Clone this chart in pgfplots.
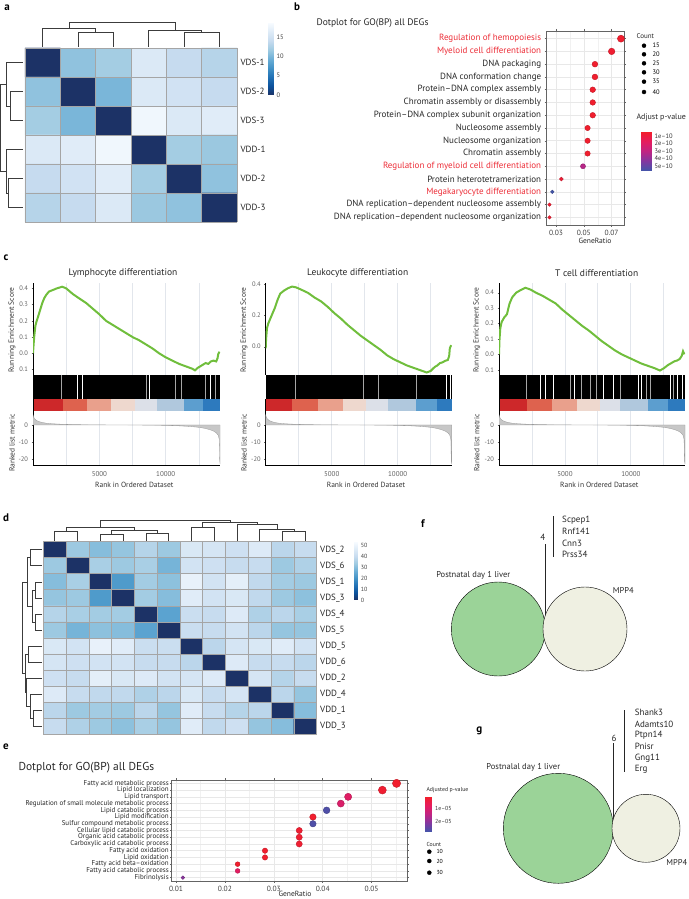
\documentclass[border=0pt]{standalone}
\usepackage{pgfplots}
\usepackage{pgfplotstable}
\pgfplotsset{compat=1.18}
\usepackage{fontspec}
\setmainfont{PT Sans}
\newcommand{\fs}[1]{\fontsize{#1}{#1}\selectfont}
\definecolor{hred}{RGB}{236,45,55}
\definecolor{vgreen}{RGB}{155,211,152}
\definecolor{vbeige}{RGB}{239,240,226}
\definecolor{esgreen}{RGB}{112,190,60}
\definecolor{gridc}{RGB}{226,230,236}
\definecolor{gridl}{RGB}{232,232,232}
\definecolor{dendc}{RGB}{60,60,60}
\definecolor{frame}{RGB}{100,100,100}
\definecolor{tlab}{RGB}{95,95,95}
\definecolor{cellb}{RGB}{165,165,165}
\definecolor{b1}{RGB}{205,40,42}
\definecolor{b2}{RGB}{222,98,78}
\definecolor{b3}{RGB}{233,160,140}
\definecolor{b4}{RGB}{238,216,206}
\definecolor{b5}{RGB}{220,224,232}
\definecolor{b6}{RGB}{176,200,221}
\definecolor{b7}{RGB}{92,158,207}
\definecolor{b8}{RGB}{45,122,190}
\pgfplotsset{
  colormap={heat}{rgb255=(28,50,102) rgb255=(12,82,156) rgb255=(33,113,181) rgb255=(66,146,198) rgb255=(107,174,214) rgb255=(158,202,225) rgb255=(198,219,239) rgb255=(222,235,247) rgb255=(247,251,255)},
  colormap={pv}{rgb255=(242,30,44) rgb255=(228,28,96) rgb255=(190,36,132) rgb255=(128,56,160) rgb255=(64,86,170)},
  every axis/.append style={scale only axis, anchor=south west, enlargelimits=false, scaled x ticks=false, scaled y ticks=false, /pgf/number format/assume math mode=true},
  dendro/.style={no marks, line width=0.6pt, color=dendc},
  esaxis/.style={height=92pt, xmin=0, xmax=14100, axis x line*=bottom, axis y line*=left,
    x axis line style={draw=none}, y axis line style={black, line width=1pt},
    xtick={5000,10000}, minor xtick={2500,7500,12500}, xticklabels={}, xtick style={draw=none},
    xmajorgrids, xminorgrids, major grid style={gridc, line width=0.9pt}, minor grid style={gridc, line width=0.9pt},
    ytick style={tlab, line width=0.4pt}, major tick length=1.5pt, minor tick length=0pt, tick align=outside,
    yticklabel style={font=\fs{6.5}, text=tlab}},
  rlaxis/.style={height=55.3pt, xmin=0, xmax=14100, ymin=-24.1, ymax=8.4, axis x line*=bottom, axis y line*=left,
    axis line style={black, line width=1pt},
    xtick={5000,10000}, xticklabels={5000,10000}, minor xtick={2500,7500,12500}, xtick style={draw=none},
    xmajorgrids, xminorgrids, major grid style={gridc, line width=0.9pt}, minor grid style={gridc, line width=0.9pt},
    ytick={-20,-10,0}, yticklabels={-20,-10,0}, ytick style={tlab, line width=0.4pt}, major tick length=1.5pt, minor tick length=0pt, tick align=outside,
    yticklabel style={font=\fs{6.5}, text=tlab}, xticklabel style={font=\fs{7}, text=tlab}},
  bcaxis/.style={height=24pt, xmin=0, xmax=14100, ymin=0, ymax=1, hide axis},
  bdaxis/.style={height=11.7pt, xmin=0, xmax=14100, ymin=0, ymax=1, hide axis, clip=false},
  hmaxis/.style={y dir=reverse, clip=false, colormap name=heat, axis on top,
    axis line style={draw=none}, xticklabels={}, tick style={draw=none},
    xmajorgrids, major grid style={cellb, line width=0.8pt},
    yticklabel pos=right, yticklabel style={font=\fs{9}, text=black!85},
    extra y tick labels={}, extra y tick style={grid=major, tick style={draw=none}}},
}
\newcommand{\seg}[3]{\addplot[fill=#1, draw=none] coordinates {(#2,0) (#2,1) (#3,1) (#3,0)} --cycle;}

\pgfplotstableread{
x y
0 0
0 6.0
40 4.8
120 3.6
250 2.7
450 2.0
700 1.45
1000 1.05
1400 0.75
2000 0.5
2800 0.3
4000 0.15
5500 0.05
7000 0.0
8500 -0.08
10000 -0.25
11000 -0.5
11800 -0.85
12400 -1.3
12900 -1.9
13300 -2.7
13600 -3.6
13800 -4.6
13950 -6.0
14030 -8.5
14060 -21
14100 -23
14100 0
}\rankedtbl

\begin{document}
\begin{tikzpicture}
\useasboundingbox (0,0) rectangle (688pt,899pt);

% ---------------- panel a heatmap
\begin{axis}[hmaxis, at={(25pt,677pt)}, width=212pt, height=174pt,
  xmin=-0.5, xmax=5.5, ymin=-0.5, ymax=5.5,
  point meta min=0, point meta max=18.6,
  xtick={-0.5,0.5,...,5.5}, ytick={0,...,5}, extra y ticks={-0.5,0.5,...,5.5},
  yticklabels={VDS-1,VDS-2,VDS-3,VDD-1,VDD-2,VDD-3}]
\addplot[matrix plot*, mesh/cols=6, point meta=explicit] table[meta=v, row sep=\\] {
x y v\\
0 0 0\\ 1 0 11\\ 2 0 12\\ 3 0 16\\ 4 0 14\\ 5 0 13\\
0 1 11\\ 1 1 0\\ 2 1 10\\ 3 1 16\\ 4 1 15\\ 5 1 14\\
0 2 12\\ 1 2 10\\ 2 2 0\\ 3 2 18\\ 4 2 16\\ 5 2 16.5\\
0 3 16\\ 1 3 16.5\\ 2 3 18\\ 3 3 0\\ 4 3 12\\ 5 3 11.5\\
0 4 14\\ 1 4 15\\ 2 4 16.5\\ 3 4 12\\ 4 4 0\\ 5 4 11\\
0 5 13\\ 1 5 14\\ 2 5 16\\ 3 5 11.5\\ 4 5 11\\ 5 5 0\\
};
\addplot[dendro] coordinates {(1,-0.55) (1,-1.04) (2,-1.04) (2,-0.55)};
\addplot[dendro] coordinates {(0,-0.55) (0,-1.18) (1.5,-1.18) (1.5,-1.04)};
\addplot[dendro] coordinates {(4,-0.55) (4,-1.04) (5,-1.04) (5,-0.55)};
\addplot[dendro] coordinates {(3,-0.55) (3,-1.12) (4.5,-1.12) (4.5,-1.04)};
\addplot[dendro] coordinates {(0.75,-1.18) (0.75,-1.37) (3.75,-1.37) (3.75,-1.12)};
\addplot[dendro] coordinates {(-0.55,1) (-0.92,1) (-0.92,2) (-0.55,2)};
\addplot[dendro] coordinates {(-0.55,0) (-1.02,0) (-1.02,1.5) (-0.92,1.5)};
\addplot[dendro] coordinates {(-0.55,4) (-0.97,4) (-0.97,5) (-0.55,5)};
\addplot[dendro] coordinates {(-0.55,3) (-1.02,3) (-1.02,4.5) (-0.97,4.5)};
\addplot[dendro] coordinates {(-1.02,0.75) (-1.19,0.75) (-1.19,3.75) (-1.02,3.75)};
\end{axis}
% colorbar a
\begin{axis}[at={(268pt,804pt)}, width=5pt, height=72pt, xmin=0, xmax=1, ymin=0, ymax=18.6,
  colormap name=heat, point meta min=0, point meta max=18.6,
  axis line style={draw=none}, xtick=\empty, ytick={0,5,10,15}, yticklabel pos=right,
  ytick style={draw=none}, yticklabel style={font=\fs{6.5}, text=black!75}]
\addplot[surf, shader=interp, point meta=y, mesh/cols=2] coordinates {(0,0) (1,0) (0,18.6) (1,18.6)};
\end{axis}

% ---------------- panel b dotplot
\begin{axis}[at={(546.7pt,674pt)}, width=77.3pt, height=194pt,
  xmin=0.0233, xmax=0.0789, ymin=0.4, ymax=15.6, y dir=reverse,
  xtick={0.03,0.05,0.07}, xticklabels={0.03,0.05,0.07}, minor xtick={0.04,0.06},
  ytick={1,...,15},
  yticklabels={\textcolor{hred}{Regulation of hemopoiesis},\textcolor{hred}{Myeloid cell differentiation},DNA packaging,DNA conformation change,Protein--DNA complex assembly,Chromatin assembly or disassembly,Protein--DNA complex subunit organization,Nucleosome assembly,Nucleosome organization,Chromatin assembly,\textcolor{hred}{Regulation of myeloid cell differentiation},Protein heterotetramerization,\textcolor{hred}{Megakaryocyte differentiation},DNA replication--dependent nucleosome assembly,DNA replication--dependent nucleosome organization},
  xmajorgrids, xminorgrids, ymajorgrids, major grid style={gridl, line width=0.6pt}, minor grid style={gridl!60, line width=0.4pt},
  axis line style={frame, line width=0.7pt}, tick align=outside, major tick length=2pt, minor tick length=0pt,
  tick style={frame, line width=0.5pt},
  xticklabel style={font=\fs{7.5}, text=black!75},
  yticklabel style={font=\fs{9}, text=black!85},
  colormap name=pv, point meta min=0.45, point meta max=5.65]
\addplot[scatter, only marks, mark=*, point meta=\thisrow{p},
  visualization depends on={0.065*\thisrow{n}+0.8 \as \msz},
  scatter/@pre marker code/.append style={/tikz/mark size=\msz}] table[x=r, y=k] {
k r n p
1 0.0767 42 0.5
2 0.0700 38 0.6
3 0.0580 32 0.5
4 0.0580 32 0.5
5 0.0564 31 0.5
6 0.0564 31 0.5
7 0.0564 31 0.5
8 0.0527 29 0.5
9 0.0527 29 0.5
10 0.0527 29 0.5
11 0.0494 27 3.2
12 0.0338 18 0.7
13 0.0273 15 5.6
14 0.0253 14 0.6
15 0.0253 14 0.6
};
\end{axis}
% colorbar b
\begin{axis}[at={(641pt,728pt)}, width=10pt, height=39pt, xmin=0, xmax=1, ymin=0.45, ymax=5.65, y dir=reverse,
  colormap name=pv, point meta min=0.45, point meta max=5.65,
  axis line style={draw=none}, xtick=\empty, ytick={1,2,3,4,5}, yticklabels={1e--10,2e--10,3e--10,4e--10,5e--10},
  yticklabel pos=right, tick align=inside, major tick length=2pt, ytick style={white, line width=0.5pt},
  yticklabel style={font=\fs{6.5}, text=black!80}]
\addplot[surf, shader=interp, point meta=y, mesh/cols=2] coordinates {(0,0.45) (1,0.45) (0,5.65) (1,5.65)};
\end{axis}

% ---------------- panel c GSEA 1
\begin{axis}[esaxis, at={(33pt,524pt)}, width=187.2pt, ymin=-0.1335, ymax=0.433,
  ytick={-0.1,0,0.1,0.2,0.3,0.4}, yticklabels={0.1,0.0,0.1,0.2,0.3,0.4}]
\addplot[esgreen, line width=2pt] coordinates {(0,0) (50,0.06) (100,0.11) (180,0.17) (280,0.2) (400,0.23) (550,0.27) (700,0.31) (850,0.34) (1000,0.36) (1200,0.38) (1500,0.39) (1800,0.40) (2200,0.41) (2500,0.40) (3000,0.365) (3500,0.337) (4000,0.31) (4500,0.275) (5000,0.24) (5500,0.20) (6000,0.175) (6500,0.15) (7000,0.125) (7500,0.10) (8000,0.08) (8500,0.055) (9000,0.03) (9500,0.0) (10000,-0.025) (10500,-0.045) (11000,-0.065) (11500,-0.08) (12000,-0.095) (12200,-0.105) (12400,-0.09) (12700,-0.075) (13000,-0.06) (13200,-0.065) (13400,-0.05) (13600,-0.045) (13800,-0.05) (13900,-0.03) (13950,-0.005) (14050,0.01)};
\end{axis}
\begin{axis}[bcaxis, at={(33pt,500pt)}, width=187.2pt]
\addplot[fill=black, draw=none] coordinates {(0,0) (0,1) (14100,1) (14100,0)} --cycle;
\addplot[ycomb, white, line width=0.9pt, no marks] coordinates {(3360,1) (3720,1) (8760,1) (13330,1)};
\addplot[ycomb, gray!70, line width=0.7pt, no marks] coordinates {(2160,1) (8560,1) (10690,1) (11200,1) (12950,1) (13700,1)};
\end{axis}
\begin{axis}[bdaxis, at={(33pt,488.3pt)}, width=187.2pt]
\seg{b1}{0}{2280}\seg{b2}{2280}{4090}\seg{b3}{4090}{5870}\seg{b4}{5870}{7680}\seg{b5}{7680}{9360}\seg{b6}{9360}{11390}\seg{b7}{11390}{12780}\seg{b8}{12780}{14100}
\addplot[black, line width=1pt] coordinates {(0,-0.2) (0,1)};
\end{axis}
\begin{axis}[rlaxis, at={(33pt,433pt)}, width=187.2pt]
\addplot[fill=black!22, draw=black!40, line width=0.3pt] table {\rankedtbl} --cycle;
\end{axis}

% ---------------- panel c GSEA 2
\begin{axis}[esaxis, at={(265.7pt,524pt)}, width=186.1pt, ymin=-0.181, ymax=0.408,
  ytick={0,0.2,0.4}, yticklabels={0.0,0.2,0.4}]
\addplot[esgreen, line width=2pt] coordinates {(0,-0.01) (30,0.05) (100,0.12) (200,0.15) (350,0.18) (500,0.21) (700,0.25) (900,0.3) (1100,0.34) (1400,0.36) (1700,0.375) (2000,0.385) (2300,0.38) (2700,0.365) (3200,0.345) (3700,0.315) (4200,0.29) (4700,0.255) (5200,0.215) (5700,0.18) (6200,0.14) (6700,0.105) (7200,0.07) (7700,0.04) (8200,0.01) (8700,-0.02) (9200,-0.055) (9700,-0.08) (10200,-0.1) (10700,-0.12) (11200,-0.135) (11700,-0.15) (12200,-0.165) (12500,-0.155) (12800,-0.13) (13000,-0.12) (13200,-0.105) (13400,-0.1) (13600,-0.09) (13800,-0.085) (13900,-0.06) (13950,-0.01) (14050,0.01)};
\end{axis}
\begin{axis}[bcaxis, at={(265.7pt,500pt)}, width=186.1pt]
\addplot[fill=black, draw=none] coordinates {(0,0) (0,1) (14100,1) (14100,0)} --cycle;
\addplot[ycomb, white, line width=0.9pt, no marks] coordinates {(13710,1) (13960,1)};
\addplot[ycomb, gray!70, line width=0.7pt, no marks] coordinates {(2220,1) (7400,1) (8530,1) (11390,1)};
\end{axis}
\begin{axis}[bdaxis, at={(265.7pt,488.3pt)}, width=186.1pt]
\seg{b1}{0}{1970}\seg{b2}{1970}{3940}\seg{b3}{3940}{5880}\seg{b4}{5880}{7580}\seg{b5}{7580}{9240}\seg{b6}{9240}{11390}\seg{b7}{11390}{12960}\seg{b8}{12960}{14100}
\addplot[black, line width=1pt] coordinates {(0,-0.2) (0,1)};
\end{axis}
\begin{axis}[rlaxis, at={(265.7pt,433pt)}, width=186.1pt]
\addplot[fill=black!22, draw=black!40, line width=0.3pt] table {\rankedtbl} --cycle;
\end{axis}

% ---------------- panel c GSEA 3
\begin{axis}[esaxis, at={(499pt,524pt)}, width=186pt, ymin=-0.134, ymax=0.463,
  ytick={-0.1,0,0.1,0.2,0.3,0.4}, yticklabels={0.1,0.0,0.1,0.2,0.3,0.4}]
\addplot[esgreen, line width=2pt] coordinates {(0,0.0) (40,0.1) (100,0.17) (200,0.21) (400,0.24) (600,0.26) (800,0.33) (1000,0.37) (1300,0.4) (1600,0.415) (2000,0.432) (2400,0.42) (2800,0.4) (3300,0.38) (3800,0.355) (4300,0.33) (4800,0.29) (5300,0.255) (5800,0.22) (6300,0.185) (6800,0.155) (7300,0.12) (7800,0.085) (8300,0.055) (8800,0.025) (9300,0.0) (9800,-0.02) (10300,-0.04) (10800,-0.06) (11300,-0.075) (11800,-0.09) (12200,-0.105) (12500,-0.09) (12800,-0.07) (13000,-0.06) (13300,-0.045) (13500,-0.04) (13700,-0.03) (13850,-0.01) (13950,0.02) (14050,0.0)};
\end{axis}
\begin{axis}[bcaxis, at={(499pt,500pt)}, width=186pt]
\addplot[fill=black, draw=none] coordinates {(0,0) (0,1) (14100,1) (14100,0)} --cycle;
\addplot[ycomb, white, line width=0.9pt, no marks] coordinates {(3106,1) (3485,1) (4116,1) (5682,1) (7903,1) (8661,1) (10556,1) (10808,1) (13006,1) (13538,1) (13917,1)};
\addplot[ycomb, gray!70, line width=0.7pt, no marks] coordinates {(2096,1) (5379,1) (6263,1) (6894,1) (7399,1) (9167,1) (11187,1) (11440,1) (13207,1)};
\end{axis}
\begin{axis}[bdaxis, at={(499pt,488.3pt)}, width=186pt]
\seg{b1}{0}{2100}\seg{b2}{2100}{3990}\seg{b3}{3990}{5880}\seg{b4}{5880}{7650}\seg{b5}{7650}{9170}\seg{b6}{9170}{11310}\seg{b7}{11310}{12830}\seg{b8}{12830}{14100}
\addplot[black, line width=1pt] coordinates {(0,-0.2) (0,1)};
\end{axis}
\begin{axis}[rlaxis, at={(499pt,433pt)}, width=186pt]
\addplot[fill=black!22, draw=black!40, line width=0.3pt] table {\rankedtbl} --cycle;
\end{axis}

% ---------------- panel d heatmap
\begin{axis}[hmaxis, at={(43.3pt,164.7pt)}, width=273.4pt, height=192.6pt,
  xmin=-0.5, xmax=11.5, ymin=-0.5, ymax=11.5,
  point meta min=0, point meta max=53,
  xtick={-0.5,0.5,...,11.5}, ytick={0,...,11}, extra y ticks={-0.5,0.5,...,11.5},
  major grid style={cellb, line width=0.7pt},
  yticklabels={VDS\_2,VDS\_6,VDS\_1,VDS\_3,VDS\_4,VDS\_5,VDD\_5,VDD\_6,VDD\_2,VDD\_4,VDD\_1,VDD\_3}]
\addplot[matrix plot*, mesh/cols=12, point meta=explicit] table[meta=v, row sep=\\] {
x y v\\
0 0 0\\ 1 0 33\\ 2 0 30\\ 3 0 32\\ 4 0 37\\ 5 0 33\\ 6 0 45\\ 7 0 44\\ 8 0 42\\ 9 0 46\\ 10 0 38\\ 11 0 40\\
0 1 33\\ 1 1 0\\ 2 1 35\\ 3 1 33\\ 4 1 35\\ 5 1 28\\ 6 1 43\\ 7 1 42\\ 8 1 40\\ 9 1 40\\ 10 1 33\\ 11 1 36\\
0 2 30\\ 1 2 35\\ 2 2 0\\ 3 2 22\\ 4 2 34\\ 5 2 31\\ 6 2 49\\ 7 2 43\\ 8 2 48\\ 9 2 39\\ 10 2 34\\ 11 2 33\\
0 3 32\\ 1 3 33\\ 2 3 22\\ 3 3 0\\ 4 3 34\\ 5 3 30\\ 6 3 47\\ 7 3 43\\ 8 3 45\\ 9 3 39\\ 10 3 33\\ 11 3 31\\
0 4 37\\ 1 4 35\\ 2 4 34\\ 3 4 34\\ 4 4 0\\ 5 4 24\\ 6 4 41\\ 7 4 40\\ 8 4 46\\ 9 4 36\\ 10 4 38\\ 11 4 35\\
0 5 33\\ 1 5 28\\ 2 5 31\\ 3 5 30\\ 4 5 24\\ 5 5 0\\ 6 5 41\\ 7 5 40\\ 8 5 43\\ 9 5 38\\ 10 5 32\\ 11 5 32\\
0 6 45\\ 1 6 43\\ 2 6 49\\ 3 6 47\\ 4 6 41\\ 5 6 41\\ 6 6 0\\ 7 6 38\\ 8 6 44\\ 9 6 45\\ 10 6 47\\ 11 6 43\\
0 7 44\\ 1 7 42\\ 2 7 43\\ 3 7 43\\ 4 7 40\\ 5 7 40\\ 6 7 38\\ 7 7 0\\ 8 7 46\\ 9 7 40\\ 10 7 40\\ 11 7 38\\
0 8 42\\ 1 8 40\\ 2 8 48\\ 3 8 45\\ 4 8 46\\ 5 8 43\\ 6 8 44\\ 7 8 46\\ 8 8 0\\ 9 8 44\\ 10 8 37\\ 11 8 40\\
0 9 46\\ 1 9 40\\ 2 9 39\\ 3 9 39\\ 4 9 36\\ 5 9 38\\ 6 9 45\\ 7 9 40\\ 8 9 44\\ 9 9 0\\ 10 9 38\\ 11 9 32\\
0 10 38\\ 1 10 33\\ 2 10 34\\ 3 10 33\\ 4 10 38\\ 5 10 32\\ 6 10 47\\ 7 10 40\\ 8 10 37\\ 9 10 38\\ 10 10 0\\ 11 10 30\\
0 11 40\\ 1 11 36\\ 2 11 33\\ 3 11 31\\ 4 11 35\\ 5 11 32\\ 6 11 47\\ 7 11 39\\ 8 11 42\\ 9 11 32\\ 10 11 30\\ 11 11 0\\
};
\addplot[dendro] coordinates {(0,-0.55) (0,-1.17) (1,-1.17) (1,-0.55)};
\addplot[dendro] coordinates {(2,-0.55) (2,-0.96) (3,-0.96) (3,-0.55)};
\addplot[dendro] coordinates {(4,-0.55) (4,-1.04) (5,-1.04) (5,-0.55)};
\addplot[dendro] coordinates {(2.5,-0.96) (2.5,-1.23) (4.5,-1.23) (4.5,-1.04)};
\addplot[dendro] coordinates {(0.5,-1.17) (0.5,-1.37) (3.5,-1.37) (3.5,-1.23)};
\addplot[dendro] coordinates {(6,-0.55) (6,-1.37) (7,-1.37) (7,-0.55)};
\addplot[dendro] coordinates {(10,-0.55) (10,-1.17) (11,-1.17) (11,-0.55)};
\addplot[dendro] coordinates {(9,-0.55) (9,-1.29) (10.5,-1.29) (10.5,-1.17)};
\addplot[dendro] coordinates {(8,-0.55) (8,-1.58) (9.75,-1.58) (9.75,-1.29)};
\addplot[dendro] coordinates {(6.5,-1.37) (6.5,-1.73) (8.875,-1.73) (8.875,-1.58)};
\addplot[dendro] coordinates {(2.0,-1.37) (2.0,-1.85) (7.69,-1.85) (7.69,-1.73)};
\addplot[dendro] coordinates {(-0.55,0) (-1.08,0) (-1.08,1) (-0.55,1)};
\addplot[dendro] coordinates {(-0.55,2) (-0.86,2) (-0.86,3) (-0.55,3)};
\addplot[dendro] coordinates {(-0.55,4) (-0.86,4) (-0.86,5) (-0.55,5)};
\addplot[dendro] coordinates {(-0.86,2.5) (-0.98,2.5) (-0.98,4.5) (-0.86,4.5)};
\addplot[dendro] coordinates {(-1.08,0.5) (-1.22,0.5) (-1.22,3.5) (-0.98,3.5)};
\addplot[dendro] coordinates {(-0.55,6) (-1.16,6) (-1.16,7) (-0.55,7)};
\addplot[dendro] coordinates {(-0.55,10) (-0.94,10) (-0.94,11) (-0.55,11)};
\addplot[dendro] coordinates {(-0.55,9) (-1.08,9) (-1.08,10.5) (-0.94,10.5)};
\addplot[dendro] coordinates {(-0.55,8) (-1.23,8) (-1.23,9.75) (-1.08,9.75)};
\addplot[dendro] coordinates {(-1.16,6.5) (-1.3,6.5) (-1.3,8.875) (-1.23,8.875)};
\addplot[dendro] coordinates {(-1.22,2.0) (-1.4,2.0) (-1.4,7.69) (-1.3,7.69)};
\end{axis}
% colorbar d
\begin{axis}[at={(354.3pt,299pt)}, width=3pt, height=58.3pt, xmin=0, xmax=1, ymin=0, ymax=53,
  colormap name=heat, point meta min=0, point meta max=53,
  axis line style={draw=none}, xtick=\empty, ytick={0,10,20,30,40,50}, yticklabel pos=right,
  ytick style={draw=none}, yticklabel style={font=\fs{6}, text=black!75}]
\addplot[surf, shader=interp, point meta=y, mesh/cols=2] coordinates {(0,0) (1,0) (0,53) (1,53)};
\end{axis}

% ---------------- panel e dotplot
\begin{axis}[at={(171.7pt,18pt)}, width=235.6pt, height=101pt,
  xmin=0.00912, xmax=0.0573, ymin=0.5, ymax=15.5, y dir=reverse,
  xtick={0.01,0.02,0.03,0.04,0.05}, xticklabels={0.01,0.02,0.03,0.04,0.05}, minor xtick={0.015,0.025,0.035,0.045,0.055},
  ytick={1,...,15},
  yticklabels={Fatty acid metabolic process,Lipid localization,Lipid transport,Regulation of small molecule metabolic process,Lipid catabolic process,Lipid modification,Sulfur compound metabolic process,Cellular lipid catabolic process,Organic acid catabolic process,Carboxylic acid catabolic process,Fatty acid oxidation,Lipid oxidation,Fatty acid beta--oxidation,Fatty acid catabolic process,Fibrinolysis},
  xmajorgrids, xminorgrids, ymajorgrids, major grid style={gridl, line width=0.6pt}, minor grid style={gridl!60, line width=0.4pt},
  axis line style={frame, line width=0.8pt}, tick align=outside, major tick length=1.8pt, minor tick length=0pt,
  tick style={frame, line width=0.5pt},
  xticklabel style={font=\fs{7.5}, text=black!75},
  yticklabel style={font=\fs{7}, text=black!85, inner sep=1pt},
  colormap name=pv, point meta min=0.13, point meta max=2.75]
\addplot[scatter, only marks, mark=*, point meta=\thisrow{p},
  visualization depends on={0.075*\thisrow{n}+1.2 \as \msz},
  scatter/@pre marker code/.append style={/tikz/mark size=\msz}] table[x=r, y=k] {
k r n p
1 0.0551 39 0.15
2 0.0522 37 0.2
3 0.0452 32 0.85
4 0.0437 31 0.95
5 0.0408 29 2.6
6 0.0380 27 0.15
7 0.0380 27 2.6
8 0.0352 25 0.2
9 0.0352 25 0.2
10 0.0352 25 0.2
11 0.0282 20 0.15
12 0.0282 20 0.15
13 0.0226 16 0.15
14 0.0226 16 0.8
15 0.0114 8 2.0
};
\end{axis}
% colorbar e
\begin{axis}[at={(425pt,67.3pt)}, width=6.7pt, height=35pt, xmin=0, xmax=1, ymin=0.13, ymax=2.75, y dir=reverse,
  colormap name=pv, point meta min=0.13, point meta max=2.75,
  axis line style={draw=none}, xtick=\empty, ytick={1,2}, yticklabels={1e--05,2e--05},
  yticklabel pos=right, tick align=inside, major tick length=1.5pt, ytick style={white, line width=0.5pt},
  yticklabel style={font=\fs{5.8}, text=black!80}]
\addplot[surf, shader=interp, point meta=y, mesh/cols=2] coordinates {(0,0.13) (1,0.13) (0,2.75) (1,2.75)};
\end{axis}

% ---------------- overlay: legends, Venn diagrams, text
\begin{axis}[at={(0pt,0pt)}, width=688pt, height=899pt, xmin=0, xmax=688, ymin=0, ymax=899, y dir=reverse, hide axis, clip=false]
\addplot[only marks, mark=*, mark size=47pt, mark options={fill=vgreen, draw=none}] coordinates {(498.3,629)};
\addplot[only marks, mark=*, mark size=42pt, mark options={fill=vbeige, draw=none}] coordinates {(585,629)};
\addplot[only marks, mark=*, mark size=55pt, mark options={fill=vgreen, draw=none}] coordinates {(558.3,828.3)};
\addplot[only marks, mark=*, mark size=34pt, mark options={fill=vbeige, draw=none}] coordinates {(646,828.3)};
\addplot[black!85, line width=0.8pt] coordinates {(545,544) (545,630)};
\addplot[black!85, line width=0.8pt] coordinates {(553.3,516) (553.3,557.3)};
\addplot[black!85, line width=0.8pt] coordinates {(613.3,743.3) (613.3,828.3)};
\addplot[black!85, line width=0.8pt] coordinates {(624.3,710) (624.3,771.7)};
\addplot[only marks, mark=*, black, visualization depends on={0.048*\thisrow{n}+0.6 \as \lsz},
  scatter/@pre marker code/.append style={/tikz/mark size=\lsz}, scatter, scatter/use mapped color={draw=black, fill=black}] table {
x y n
644 45.7 15
644 54.3 20
644 63.3 25
644 72.3 30
644 81.7 35
644 92 40
};
\addplot[only marks, mark=*, black, visualization depends on={0.06*\thisrow{n}+0.9 \as \lsz},
  scatter/@pre marker code/.append style={/tikz/mark size=\lsz}, scatter, scatter/use mapped color={draw=black, fill=black}] table {
x y n
429.3 851.7 10
429.3 861 20
429.3 872.7 30
};
\node[font=\fs{11}\bfseries] at (7,8) {a};
\node[font=\fs{11}\bfseries] at (297,7) {b};
\node[font=\fs{11}\bfseries] at (6,258) {c};
\node[font=\fs{11}\bfseries] at (6,518) {d};
\node[font=\fs{11}\bfseries] at (6,747) {e};
\node[font=\fs{11}\bfseries] at (423,524) {f};
\node[font=\fs{11}\bfseries] at (479.3,730.7) {g};
\node[anchor=west, font=\fs{9.5}, text=black!85] at (313,23) {Dotplot for GO(BP) all DEGs};
\node[font=\fs{7.5}, text=black!85] at (595,240.5) {GeneRatio};
\node[anchor=west, font=\fs{7}, text=black!85] at (633,36) {Count};
\node[anchor=west, font=\fs{6.5}] at (649,45.7) {15};
\node[anchor=west, font=\fs{6.5}] at (649,54.3) {20};
\node[anchor=west, font=\fs{6.5}] at (649,63.3) {25};
\node[anchor=west, font=\fs{6.5}] at (649,72.3) {30};
\node[anchor=west, font=\fs{6.5}] at (649,81.7) {35};
\node[anchor=west, font=\fs{6.5}] at (649,92) {40};
\node[anchor=west, font=\fs{8}, text=black!85] at (633,118) {Adjust p-value};
\node[font=\fs{9.5}, text=black!85] at (123,273) {Lymphocyte differentiation};
\node[font=\fs{9.5}, text=black!85] at (357.7,273) {Leukocyte differentiation};
\node[font=\fs{9.5}, text=black!85] at (596.7,273) {T cell differentiation};
\node[rotate=90, font=\fs{7.5}, text=black!80] at (12,330) {Running Enrichment Score};
\node[rotate=90, font=\fs{7.5}, text=black!80] at (244,330) {Running Enrichment Score};
\node[rotate=90, font=\fs{7.5}, text=black!80] at (476.7,330) {Running Enrichment Score};
\node[rotate=90, font=\fs{7.5}, text=black!80] at (12,443) {Ranked list metric};
\node[rotate=90, font=\fs{7.5}, text=black!80] at (244,443) {Ranked list metric};
\node[rotate=90, font=\fs{7.5}, text=black!80] at (476.7,443) {Ranked list metric};
\node[font=\fs{7.5}, text=black!80] at (134.3,485) {Rank in Ordered Dataset};
\node[font=\fs{7.5}, text=black!80] at (366,485) {Rank in Ordered Dataset};
\node[font=\fs{7.5}, text=black!80] at (599.3,485) {Rank in Ordered Dataset};
\node[anchor=west, font=\fs{11.5}, text=black!85] at (15,768) {Dotplot for GO(BP) all DEGs};
\node[font=\fs{7.5}, text=black!85] at (295,894) {GeneRatio};
\node[anchor=west, font=\fs{5.8}, text=black!85] at (423,790) {Adjusted p-value};
\node[anchor=west, font=\fs{5.8}, text=black!85] at (423,844) {Count};
\node[anchor=west, font=\fs{5.8}] at (433,851.7) {10};
\node[anchor=west, font=\fs{5.8}] at (433,861) {20};
\node[anchor=west, font=\fs{5.8}] at (433,872.7) {30};
\node[font=\fs{8.5}, text=black!85] at (473.3,575.7) {Postnatal day 1 liver};
\node[font=\fs{8.5}, text=black!85] at (623.3,590) {MPP4};
\node[font=\fs{9}, text=black!85] at (499,629) {440};
\node[font=\fs{9}, text=black!85] at (588.3,629) {342};
\node[font=\fs{9}, text=black!85] at (542.7,537.3) {4};
\node[anchor=west, font=\fs{9}, text=black!85] at (558.7,520.5) {Scpep1};
\node[anchor=west, font=\fs{9}, text=black!85] at (558.7,531.7) {Rnf141};
\node[anchor=west, font=\fs{9}, text=black!85] at (558.7,543) {Cnn3};
\node[anchor=west, font=\fs{9}, text=black!85] at (558.7,554.2) {Prss34};
\node[font=\fs{8.5}, text=black!85] at (523.3,767.3) {Postnalal day 1 liver};
\node[font=\fs{8.5}, text=black!85] at (676.7,862.7) {MPP4};
\node[font=\fs{9}, text=black!85] at (559.3,828.3) {709};
\node[font=\fs{9}, text=black!85] at (649,828.3) {262};
\node[font=\fs{9}, text=black!85] at (614,738.3) {6};
\node[anchor=west, font=\fs{9}, text=black!85] at (631.3,712.7) {Shank3};
\node[anchor=west, font=\fs{9}, text=black!85] at (631.3,724) {Adamts10};
\node[anchor=west, font=\fs{9}, text=black!85] at (631.3,735.3) {Ptpn14};
\node[anchor=west, font=\fs{9}, text=black!85] at (631.3,746.7) {Pnisr};
\node[anchor=west, font=\fs{9}, text=black!85] at (631.3,758) {Gng11};
\node[anchor=west, font=\fs{9}, text=black!85] at (631.3,769.3) {Erg};
\end{axis}
\end{tikzpicture}
\end{document}
